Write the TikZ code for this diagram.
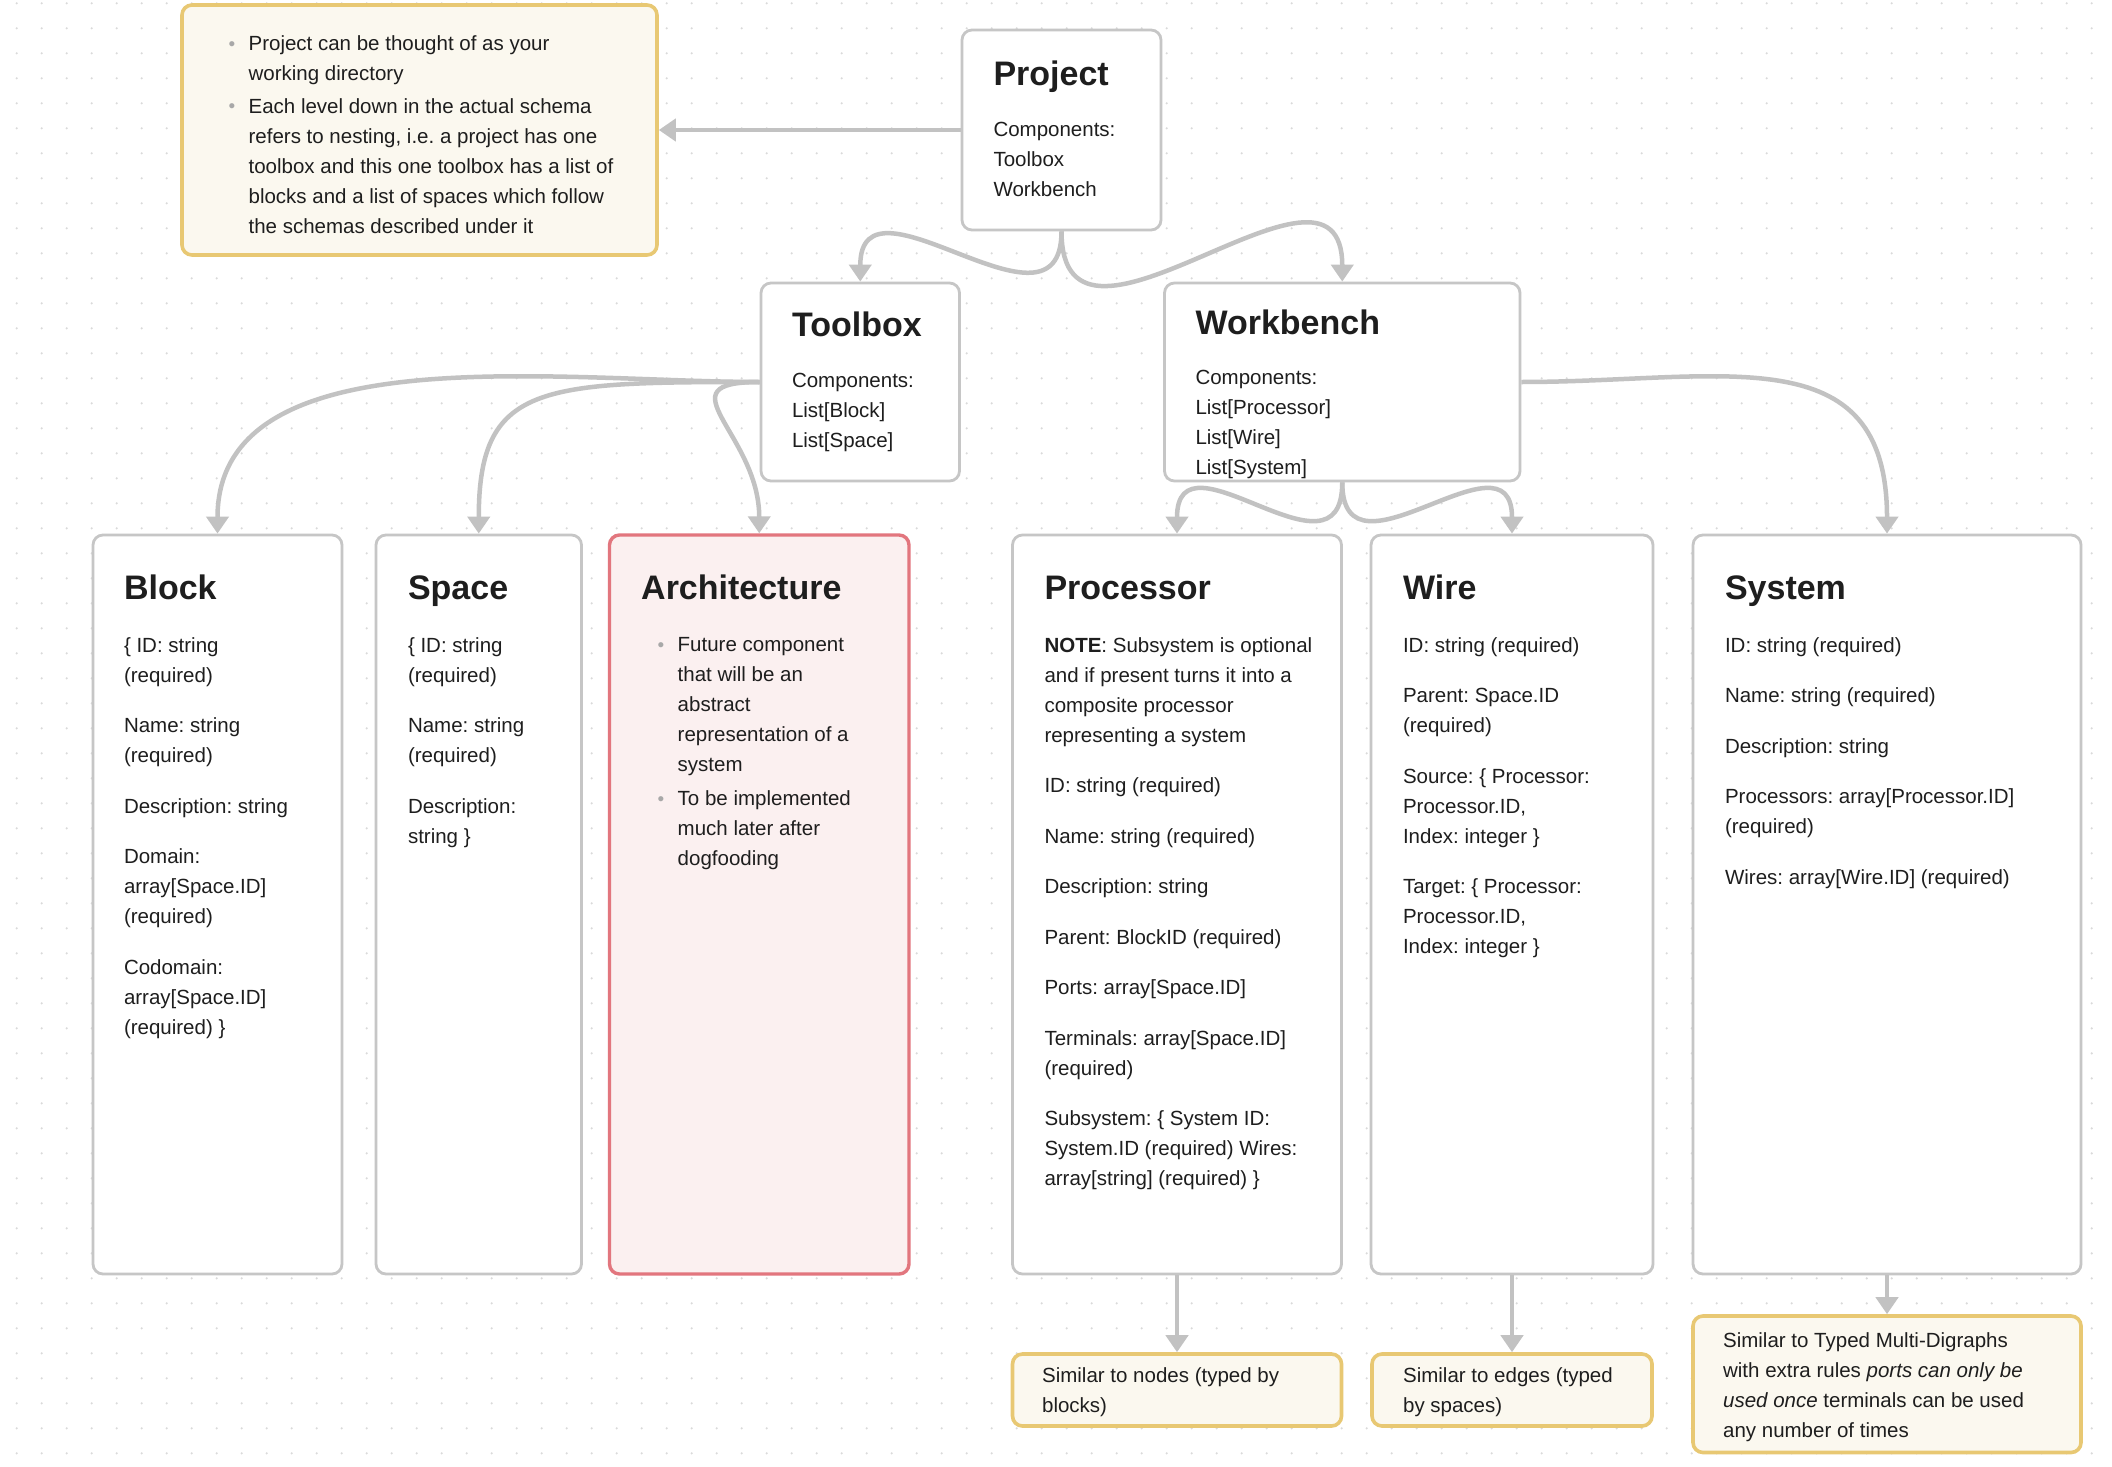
\documentclass[tikz,border=0pt]{standalone}
\usepackage{fontspec}
\setmainfont{Liberation Sans}
\usepackage{xcolor}
\usetikzlibrary{arrows.meta}

\definecolor{ink}{HTML}{1E1E1E}
\definecolor{cardline}{HTML}{C6C6C6}
\definecolor{linkgray}{HTML}{C2C2C2}
\definecolor{dotgray}{HTML}{DADADA}
\definecolor{notefill}{HTML}{FBF8EF}
\definecolor{noteline}{HTML}{E8C873}
\definecolor{redfill}{HTML}{FBF0F0}
\definecolor{redline}{HTML}{E2767E}
\definecolor{bulletgray}{HTML}{A8A8A8}

\frenchspacing
\newcommand{\bodyfont}{\fontsize{10.25}{15}\selectfont\frenchspacing}
\newcommand{\titlefont}{\fontsize{17}{20}\selectfont\bfseries}
\newcommand{\txt}[1]{\parbox[t]{200pt}{\raggedright #1}}
\newcommand{\bul}{\makebox[10pt][l]{\raisebox{0.4pt}{\textcolor{bulletgray}{\fontsize{9.5}{9.5}\selectfont\textbullet}}}}
\newcommand{\ind}{\makebox[10pt]{}}
\newcommand{\gap}{\\[10.25pt]}

\begin{document}
\begin{tikzpicture}[x=0.5pt,y=-0.5pt,
>={Triangle[length=8.5pt,width=11pt]}]
     \tikzstyle{card}=[draw=cardline,fill=white,line width=1.4pt,rounded corners=5pt,inner sep=0pt]
     \tikzstyle{redcard}=[card,draw=redline,fill=redfill,line width=1.7pt]
     \tikzstyle{note}=[card,draw=noteline,fill=notefill,line width=1.8pt]
     \tikzstyle{title}=[anchor=base west,inner sep=0pt,font=\titlefont,text=ink]
     \tikzstyle{body}=[anchor=base west,inner sep=0pt,font=\bodyfont,text=ink]
     \tikzstyle{link}=[draw,line width=2.25pt,linkgray,->]

     \useasboundingbox (0,0) rectangle (2112,1466);
     \fill[white] (0,0) rectangle (2112,1466);
     \foreach \i in {0,...,83}
       \foreach \j in {0,...,58}
         \fill[dotgray] (16.7+25*\i,3.3+25*\j) circle[radius=0.6pt];

     \node[note,minimum width=237.5pt,minimum height=125pt] (note1) at (419.5,130) {};
     \node[card,minimum width=99.5pt,minimum height=100pt] (proj) at (1061.5,130) {};
     \node[card,minimum width=99.25pt,minimum height=99pt] (tool) at (860.25,382) {};
     \node[card,minimum width=177.75pt,minimum height=99pt] (bench) at (1342.25,382) {};

     \node[card,minimum width=124.5pt,minimum height=369.5pt] (block) at (217.5,904.5) {};
     \node[card,minimum width=102.75pt,minimum height=369.5pt] (space) at (478.75,904.5) {};
     \node[redcard,minimum width=149.75pt,minimum height=369.5pt] (arch) at (759.25,904.5) {};
     \node[card,minimum width=164.5pt,minimum height=369.5pt] (proc) at (1177,904.5) {};
     \node[card,minimum width=141pt,minimum height=369.5pt] (wire) at (1512,904.5) {};
     \node[card,minimum width=194pt,minimum height=369.5pt] (sys) at (1887,904.5) {};

     \node[note,minimum width=164.5pt,minimum height=36pt] (pnote) at (1177,1390) {};
     \node[note,minimum width=140pt,minimum height=36pt] (wnote) at (1512,1390) {};
     \node[note,minimum width=194pt,minimum height=68.25pt] (snote) at (1887,1384.25) {};

     \node[body] (note1txt) at ([shift={(48,47.7)}]note1.north west) {\txt{%
       \bul Project can be thought of as your\\\ind working directory\\[1.2pt]%
       \bul Each level down in the actual schema\\\ind refers to nesting, i.e. a project has one\\%
       \ind toolbox and this one toolbox has a list of\\\ind blocks and a list of spaces which follow\\%
       \ind the schemas described under it}};

     \node[title] (projtitle) at ([shift={(32.5,57.3)}]proj.north west) {Project};
     \node[body] (projtxt) at ([shift={(32.5,107.7)}]proj.north west) {\txt{Components:\\Toolbox\\Workbench}};
     \node[title] (tooltitle) at ([shift={(32,55.3)}]tool.north west) {Toolbox};
     \node[body] (tooltxt) at ([shift={(32,106.3)}]tool.north west) {\txt{Components:\\List[Block]\\List[Space]}};
     \node[title] (benchtitle) at ([shift={(32,52.7)}]bench.north west) {Workbench};
     \node[body] (benchtxt) at ([shift={(32,103)}]bench.north west) {\txt{Components:\\List[Processor]\\List[Wire]\\List[System]}};

     \node[title] (blocktitle) at ([shift={(32,66)}]block.north west) {Block};
     \node[body] (blocktxt) at ([shift={(32,118.5)}]block.north west) {\txt{%
       \{ ID: string\\(required)\gap Name: string\\(required)\gap Description: string\gap
       Domain:\\array[Space.ID]\\(required)\gap Codomain:\\array[Space.ID]\\(required) \}}};
     \node[title] (spacetitle) at ([shift={(33,66)}]space.north west) {Space};
     \node[body] (spacetxt) at ([shift={(33,118.5)}]space.north west) {\txt{%
       \{ ID: string\\(required)\gap Name: string\\(required)\gap Description:\\string \}}};
     \node[title] (archtitle) at ([shift={(33,66)}]arch.north west) {Architecture};
     \node[body] (archtxt) at ([shift={(49.5,118.5)}]arch.north west) {\txt{%
       \bul Future component\\\ind that will be an\\\ind abstract\\\ind representation of a\\\ind system\\[2pt]%
       \bul To be implemented\\\ind much later after\\\ind dogfooding}};
     \node[title] (proctitle) at ([shift={(33,66)}]proc.north west) {Processor};
     \node[body] (proctxt) at ([shift={(33,118.5)}]proc.north west) {\txt{%
       \textbf{NOTE}: Subsystem is optional\\and if present turns it into a\\composite processor\\representing a system\gap
       ID: string (required)\gap Name: string (required)\gap Description: string\gap
       Parent: BlockID (required)\gap Ports: array[Space.ID]\gap Terminals: array[Space.ID]\\(required)\gap
       Subsystem: \{ System ID:\\System.ID (required) Wires:\\array[string] (required) \}}};
     \node[title] (wiretitle) at ([shift={(33,66)}]wire.north west) {Wire};
     \node[body] (wiretxt) at ([shift={(33,118.5)}]wire.north west) {\txt{%
       ID: string (required)\gap Parent: Space.ID\\(required)\gap
       Source: \{ Processor:\\Processor.ID,\\Index: integer \}\gap
       Target: \{ Processor:\\Processor.ID,\\Index: integer \}}};
     \node[title] (systitle) at ([shift={(33,66)}]sys.north west) {System};
     \node[body] (systxt) at ([shift={(33,118.5)}]sys.north west) {\txt{%
       ID: string (required)\gap Name: string (required)\gap Description: string\gap
       Processors: array[Processor.ID]\\(required)\gap Wires: array[Wire.ID] (required)}};

     \node[body] (pnotetxt) at ([shift={(31,30)}]pnote.north west) {\txt{Similar to nodes (typed by\\blocks)}};
     \node[body] (wnotetxt) at ([shift={(32.5,30)}]wnote.north west) {\txt{Similar to edges (typed\\by spaces)}};
     \node[body] (snotetxt) at ([shift={(31.5,33.3)}]snote.north west) {\txt{%
       Similar to Typed Multi-Digraphs\\with extra rules \textit{ports can only be}\\%
       \textit{used once} terminals can be used\\any number of times}};

     \draw[link] (proj.west) -- (note1.east);
     \draw[link] (proj.south) .. controls +(0,120) and +(0,-120) .. (tool.north);
     \draw[link] (proj.south) .. controls +(0,165) and +(0,-160) .. (bench.north);
     \draw[link] (tool.west) .. controls +(-200,0) and +(0,-200) .. (block.north);
     \draw[link] (tool.west) .. controls +(-220,0) and +(0,-150) .. (space.north);
     \draw[link] (tool.west) .. controls +(-100,0) and +(0,-100) .. (arch.north);
     \draw[link] (bench.east) .. controls +(200,0) and +(0,-200) .. (sys.north);
     \draw[link] (bench.south) .. controls +(0,110) and +(0,-110) .. (proc.north);
     \draw[link] (bench.south) .. controls +(0,110) and +(0,-110) .. (wire.north);
     \draw[link] (proc.south) -- (pnote.north);
     \draw[link] (wire.south) -- (wnote.north);
     \draw[link] (sys.south) -- (snote.north);
 \end{tikzpicture}
\end{document}
